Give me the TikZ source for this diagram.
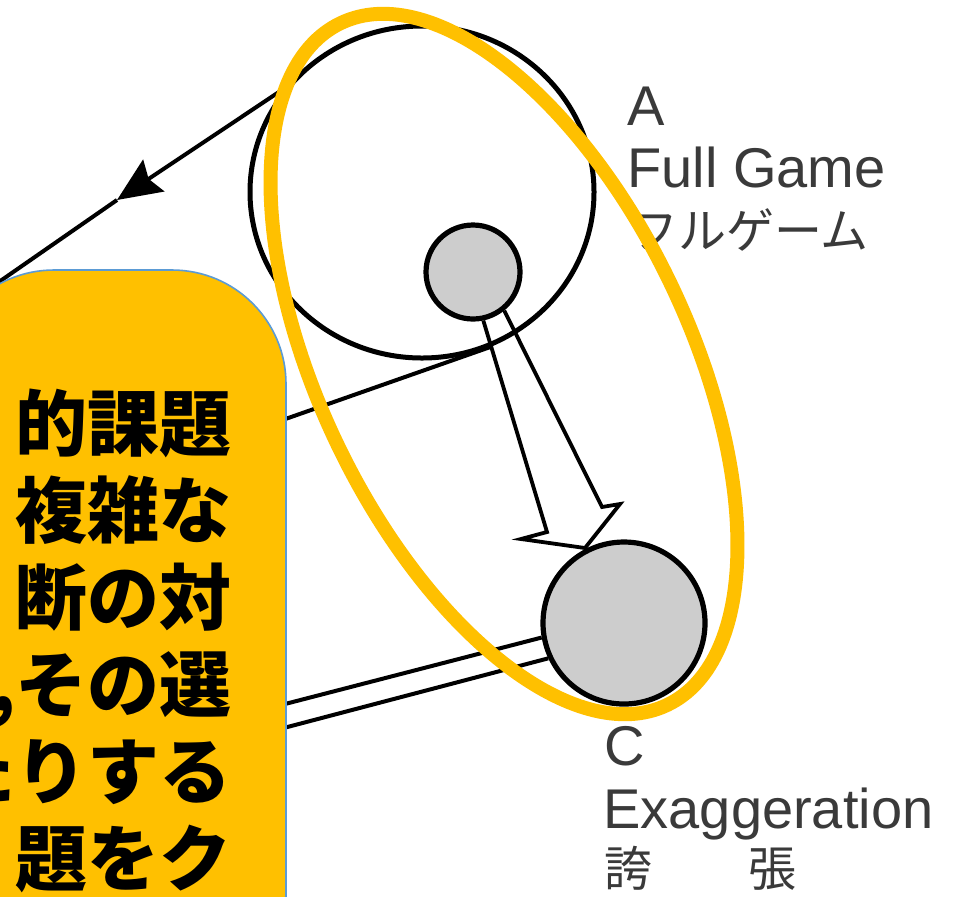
\documentclass[tikz,border=0pt]{standalone}
\usepackage{fontspec}
\setmainfont{Liberation Sans}
\newfontfamily\cjk{Noto Sans CJK JP}
\usetikzlibrary{shapes.geometric,arrows.meta}
\definecolor{gold}{HTML}{FFC000}
\definecolor{boxline}{HTML}{5B9BD5}
\definecolor{labelgray}{HTML}{3A3A3A}
\definecolor{ballfill}{HTML}{CDCDCD}
\begin{document}
\begin{tikzpicture}[x=0.5pt,y=-0.5pt,
  ring/.style={draw=black, line width=2.5pt, ellipse, inner sep=0pt},
  ball/.style={draw=black, line width=2.6pt, circle, fill=ballfill, inner sep=0pt},
  wire/.style={draw=black, line width=2pt},
  hollow/.style={draw=black, line width=1.9pt, line join=miter},
  lbl/.style={text=labelgray, inner sep=0pt, anchor=base west, font=\fontsize{28}{30}\selectfont},
  jlbl/.style={text=labelgray, inner sep=0pt, anchor=base west, font=\cjk\fontsize{24}{26}\selectfont},
  boxtext/.style={inner sep=0pt, anchor=base east, font=\cjk\bfseries\fontsize{36}{40}\selectfont},
  halo/.style={draw=gold, line width=7pt, ellipse, inner sep=0pt},
]
\useasboundingbox (0,0) rectangle (961,896);
\clip (0,0) rectangle (961,896);
\fill[white] (0,0) rectangle (961,896);

% circles
\node[ring, minimum width=172pt, minimum height=166pt] (A) at (422,192) {};
\node[ball, minimum size=47pt] (B) at (473,272) {};
\node[ball, minimum size=81pt] (C) at (624,623) {};

% connector coordinates
\coordinate (tip) at (117,200);
\coordinate (farA) at (-30,302);
\coordinate (farT) at (200,449);
\coordinate (dU) at (200,726);
\coordinate (dL) at (200,750);
\coordinate (h2) at (547,532);
\coordinate (h3) at (521,539);
\coordinate (h4) at (585,548);
\coordinate (h5) at (620,504);
\coordinate (h6) at (602,507);

% long arrow from A to the left
\draw[wire, -{Stealth[length=22pt,width=19pt,inset=3pt]}] (A.143) -- (tip);
\draw[wire] (tip) -- (farA);
% tangent line under A
\draw[wire] (A.-66) -- (farT);
% double line from C
\draw[wire] (C.190) -- (dU);
\draw[wire] (C.205) -- (dL);
% hollow arrow B -> C
\draw[hollow] (B.-78) -- (h2) -- (h3) -- (h4) -- (h5) -- (h6) -- (B.-51);

% labels
\node[lbl] (la) at (627,125) {A};
\node[lbl] (lfg) at (627,187) {Full Game};
\node[jlbl] (lfj) at (630,248) {フルゲーム};
\node[lbl] (lc) at (604,765) {C};
\node[lbl] (lex) at (603,828) {Exaggeration};
\node[jlbl] (lkc) at (604,886) {誇　　張};

% highlight ellipse
\node[halo, minimum width=378pt, minimum height=185pt, rotate=-64.4] (E) at (504,364) {};

% callout box
\draw[draw=boxline, fill=gold, line width=0.8pt, rounded corners=57pt]
  (-60,1000) -- (-60,270) -- (286,270) -- (286,1000);
\node[boxtext] (t1) at (232,450) {的課題};
\node[boxtext] (t2) at (232,537) {複雑な};
\node[boxtext] (t3) at (232,624) {断の対};
\node[boxtext] (t4) at (232,711) {,その選};
\node[boxtext] (t5) at (232,798) {たりする};
\node[boxtext] (t6) at (232,885) {題をク};
\end{tikzpicture}
\end{document}
